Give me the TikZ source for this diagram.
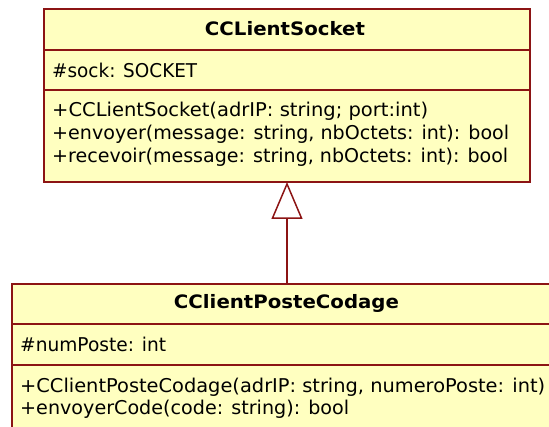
\documentclass[tikz,border=0pt]{standalone}
\usepackage{fontspec}
\setmainfont{DejaVu Sans}
\usetikzlibrary{arrows.meta}
\definecolor{umlfill}{RGB}{255,255,192}
\definecolor{umlline}{RGB}{140,20,20}
\newcommand{\fitto}[2]{\resizebox{#1}{\height}{#2}}
\tikzset{
  classbox/.style={draw=umlline, fill=umlfill, line width=2.2pt, rectangle, inner sep=0pt, anchor=north west},
  sepline/.style={draw=umlline, line width=1.7pt},
  title/.style={font=\fontsize{18.5}{22}\selectfont\bfseries, inner sep=0pt},
  member/.style={font=\fontsize{19}{22}\selectfont, inner sep=0pt, anchor=west},
  inherit/.style={draw=umlline, line width=1.5pt, -{Triangle[open, width=31pt, length=37pt, line width=1.5pt]}}
}
\begin{document}
\begin{tikzpicture}[x=1pt, y=-1pt]
\useasboundingbox (0,0) rectangle (549,427);
\clip (0,0) rectangle (549,427);
% top class
\node[classbox, minimum width=486pt, minimum height=173pt] (top) at (43,8) {};
\draw[sepline] (43,50) -- (529,50);
\draw[sepline] (43,90) -- (529,90);
\node[title] (topname) at (285,29) {\fitto{160pt}{CCLientSocket}};
\node[member] (topattr) at (52,70) {\fitto{145pt}{\#sock: SOCKET}};
\node[member] (topm1) at (52,111) {\fitto{376pt}{+CCLientSocket(adrIP: string; port:int)}};
\node[member] (topm2) at (52,134) {\fitto{457pt}{+envoyer(message: string, nbOctets: int): bool}};
\node[member] (topm3) at (52,157) {\fitto{456pt}{+recevoir(message: string, nbOctets: int): bool}};
% bottom class
\node[classbox, minimum width=552pt, minimum height=160pt] (bot) at (11,283) {};
\draw[sepline] (11,324) -- (563,324);
\draw[sepline] (11,365) -- (563,365);
\node[title] (botname) at (286.5,303) {\fitto{225pt}{CClientPosteCodage}};
\node[member] (botattr) at (20,344) {\fitto{146pt}{\#numPoste: int}};
\node[member] (botm1) at (20,387) {\fitto{525pt}{+CClientPosteCodage(adrIP: string, numeroPoste: int)}};
\node[member] (botm2) at (20,409) {\fitto{329pt}{+envoyerCode(code: string): bool}};
% generalization
\coordinate (gfrom) at (287,283);
\coordinate (gto) at (287,182);
\draw[inherit] (gfrom) -- (gto);
\end{tikzpicture}
\end{document}
